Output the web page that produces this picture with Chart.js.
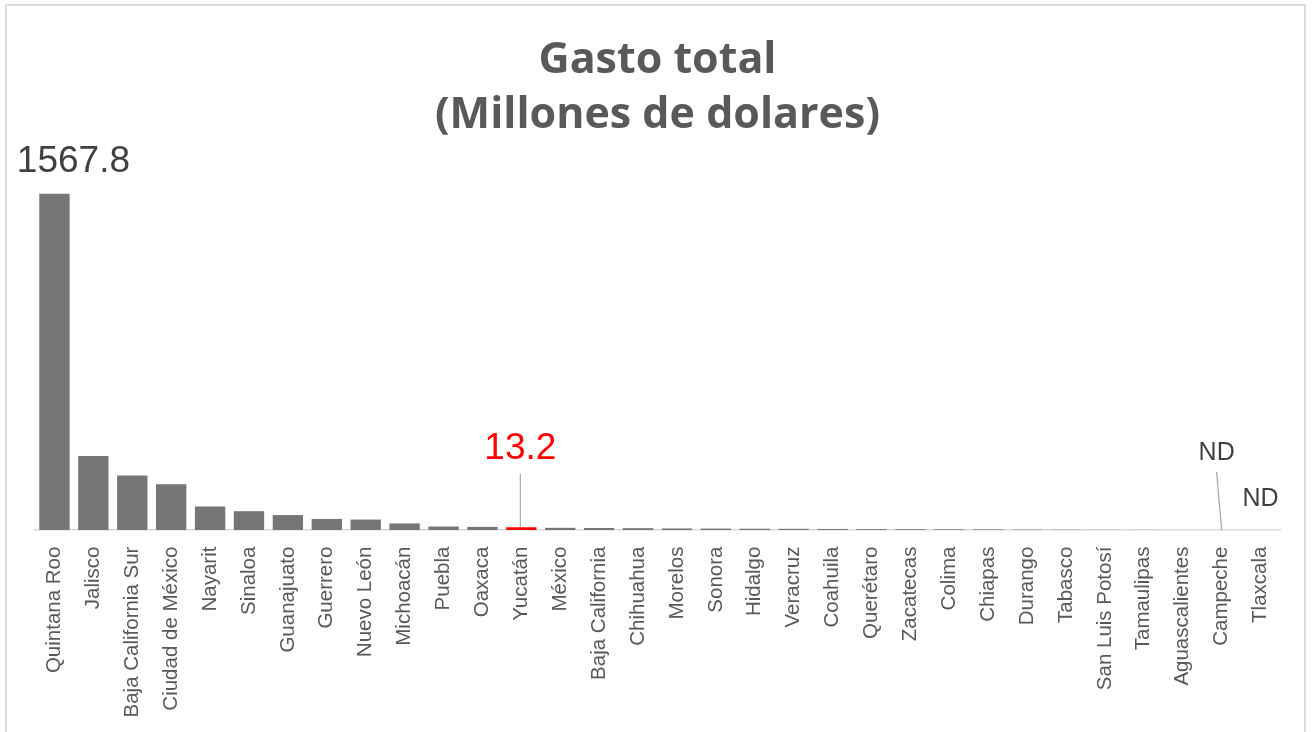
<!DOCTYPE html>
<html>
<head>
<meta charset="utf-8">
<script src="https://cdn.jsdelivr.net/npm/chart.js@4/dist/chart.umd.min.js"></script>
<style>
  body { margin: 0; background: #fff; }
  #wrap { position: relative; width: 1313px; height: 732px; overflow: hidden; }
  #frame { position: absolute; left: 5px; top: 4px; width: 1301px; height: 760px; border: 2px solid #dcdcdc; box-sizing: border-box; }
  canvas { position: absolute; left: 0; top: 0; }
</style>
</head>
<body>
<div id="wrap">
  <div id="frame"></div>
  <canvas id="gasto-chart" width="1313" height="732"></canvas>
</div>
<script>
// estados, ordenados de mayor a menor gasto
const estados = ['Quintana Roo', 'Jalisco', 'Baja California Sur', 'Ciudad de México', 'Nayarit', 'Sinaloa',
    'Guanajuato', 'Guerrero', 'Nuevo León', 'Michoacán', 'Puebla', 'Oaxaca', 'Yucatán', 'México',
    'Baja California', 'Chihuahua', 'Morelos', 'Sonora', 'Hidalgo', 'Veracruz', 'Coahuila', 'Querétaro',
    'Zacatecas', 'Colima', 'Chiapas', 'Durango', 'Tabasco', 'San Luis Potosí', 'Tamaulipas',
    'Aguascalientes', 'Campeche', 'Tlaxcala'];

// gasto total en millones de dolares (null = ND)
const gasto = [1567.8, 345, 254, 214, 110, 88, 70, 52, 49, 31, 16.5, 14.8, 13.2, 10.5, 9.8, 9.0,
    7.6, 7.0, 6.4, 6.0, 5.2, 4.5, 4.0, 3.5, 3.0, 2.2, 1.6, 1.0, 0.6, 0.3, null, null];

// etiquetas de datos que se muestran
const etiquetaIdx = [0, 12, 30, 31];
const etiquetaTxt = ['1567.8', '13.2', 'ND', 'ND'];

const destacado = 'Yucatán';

// Plugin to draw the few data labels (with leader lines)
const etiquetasPlugin = {
    id: 'etiquetas',
    afterDatasetsDraw(chart) {
        const ctx = chart.ctx;
        const xs = chart.scales.x;
        const ys = chart.scales.y;
        const base = ys.getPixelForValue(0);
        ctx.save();
        ctx.textAlign = 'center';
        ctx.textBaseline = 'alphabetic';
        etiquetaIdx.forEach((idx, k) => {
            const x = xs.getPixelForValue(idx);
            const val = gasto[idx];
            const txt = etiquetaTxt[k];
            if (k === 0) {
                const top = ys.getPixelForValue(val);
                ctx.fillStyle = '#404040';
                ctx.font = '37px "Liberation Sans", Arial, sans-serif';
                ctx.fillText(txt, x + 19, top - 22);
            } else if (k === 1) {
                const top = ys.getPixelForValue(val);
                ctx.strokeStyle = '#a6a6a6';
                ctx.lineWidth = 1.2;
                ctx.beginPath();
                ctx.moveTo(x - 1, 474);
                ctx.lineTo(x - 1, top);
                ctx.stroke();
                ctx.fillStyle = '#FF0000';
                ctx.font = '37px "Liberation Sans", Arial, sans-serif';
                ctx.fillText(txt, x - 1, 459);
            } else if (k === 2) {
                ctx.strokeStyle = '#a6a6a6';
                ctx.lineWidth = 1.2;
                ctx.beginPath();
                ctx.moveTo(x - 5, 472);
                ctx.lineTo(x, base);
                ctx.stroke();
                ctx.fillStyle = '#404040';
                ctx.font = '25px "Liberation Sans", Arial, sans-serif';
                ctx.fillText(txt, x - 5, 460);
            } else {
                ctx.fillStyle = '#404040';
                ctx.font = '25px "Liberation Sans", Arial, sans-serif';
                ctx.fillText(txt, x, 506);
            }
        });
        ctx.restore();
    }
};

const ctx = document.getElementById('gasto-chart').getContext('2d');
const myChart = new Chart(ctx, {
    type: 'bar',
    data: {
        labels: estados,
        datasets: [{
            data: gasto,
            backgroundColor: estados.map(e => e === destacado ? '#FF0000' : '#767676'),
            borderWidth: 0,
            barPercentage: 0.78,
            categoryPercentage: 1.0,
        }],
    },
    options: {
        responsive: false,
        animation: false,
        layout: {
            padding: { left: 35, right: 33, top: 0, bottom: 6 },
        },
        plugins: {
            legend: { display: false },
            tooltip: { enabled: false },
            title: {
                display: true,
                text: ['Gasto total', '(Millones de dolares)'],
                color: '#595959',
                font: {
                    family: '"Open Sans", sans-serif',
                    size: 43,
                    weight: 'bold',
                    lineHeight: 1.28,
                },
                padding: { top: 33, bottom: 1 },
            },
        },
        scales: {
            x: {
                grid: { display: false },
                border: { display: true, color: '#d9d9d9', width: 1.5 },
                ticks: {
                    color: '#595959',
                    autoSkip: false,
                    minRotation: 90,
                    maxRotation: 90,
                    padding: 8.5,
                    font: {
                        family: '"Liberation Sans", Arial, sans-serif',
                        size: 20.5,
                    },
                },
            },
            y: {
                display: false,
                min: 0,
                max: 1800,
            },
        },
    },
    plugins: [etiquetasPlugin],
});
</script>
</body>
</html>
